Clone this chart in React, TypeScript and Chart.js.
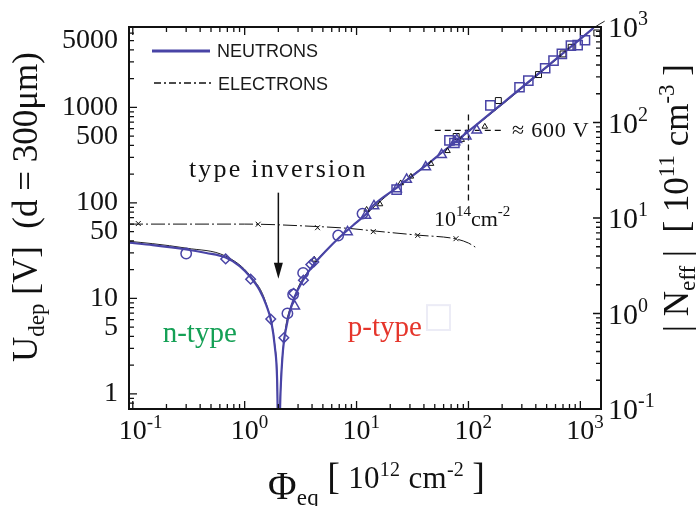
import React, { useEffect, useRef } from 'react';
import { Chart, registerables } from 'chart.js';

Chart.register(...registerables);

const SERIF = '"Liberation Serif", "Times New Roman", serif';
const SANS = '"Liberation Sans", Arial, sans-serif';
const BLUE = '#4944a6';
const INK = '#111111';

// ---------- axis ranges ----------
const PHI_MIN = 0.0925;
const PHI_MAX = 1530;
const U_MIN = 0.695;
const U_MAX = 6950;
const N_MIN = 0.1;
const N_MAX = 1000;

// ---------- tick labels ----------
const phiTickValues = [0.1, 1, 10, 100, 1000];
const phiTickExps = ['-1', '0', '1', '2', '3'];
const uTickValues = [1, 5, 10, 50, 100, 500, 1000, 5000];
const uTickLabels = ['1', '5', '10', '50', '100', '500', '1000', '5000'];
const nTickValues = [0.1, 1, 10, 100, 1000];
const nTickExps = ['-1', '0', '1', '2', '3'];

// ---------- neutron fit (blue curve) ----------
const fitPhi = [0.0925, 0.151, 0.301, 0.454, 0.676, 0.902, 1.13, 1.36, 1.56, 1.73, 1.86, 1.95, 2.01, 2.09, 2.2, 2.36, 2.53, 2.8, 3.33, 4.09, 5.39, 7.09, 9.32, 12.3, 14.1, 22.8, 42.3, 57.5, 99.7, 220, 693, 1315];
const fitU = [38.3, 36.1, 32.5, 29.9, 26.8, 21.8, 16.6, 12.2, 8.51, 5.69, 3.12, 1.4, 0.2, 1.02, 2.88, 5.05, 7.25, 10.4, 15.5, 22.3, 32.0, 44.0, 58.3, 77.3, 94, 144, 250, 335, 560, 1200, 3650, 6790];

// ---------- thin black fit curve ----------
const fitBlackPhi = [0.0925, 0.151, 0.301, 0.676, 1.13, 1.56, 1.86, 1.95, 2.01, 2.09, 2.2, 2.8, 4.09, 7.09, 12.3, 22.8, 42.3, 99.7, 220, 693, 1315, 1650];
const fitBlackU = [39.6, 37.4, 33.6, 27.7, 17.1, 8.7, 3.2, 1.45, 0.2, 1.05, 2.9, 10.4, 22.3, 44.0, 77.3, 146, 252, 555, 1170, 3600, 6790, 8000];

// ---------- electron curve (dash-dot) ----------
const elLinePhi = [0.0925, 1, 4.5, 8.7, 14, 35, 77, 100, 115];
const elLineU = [60, 60, 56.5, 54, 51, 46, 42, 38, 34.5];

// ---------- electron points (crosses) ----------
const elPhi = [0.112, 1.32, 4.48, 14.1, 35.2, 77.4];
const elU = [60.8, 59.8, 55, 50, 45.7, 42.2];

// ---------- neutron data (blue open markers) ----------
const circPhi = [0.3, 2.41, 2.71, 3.33, 6.85, 11.3];
const circU = [29.5, 6.97, 11.0, 18.5, 45.5, 77.3];
const diaPhi = [0.676, 1.13, 1.71, 2.24, 2.74, 3.35, 3.9, 4.15];
const diaU = [25.9, 15.9, 6.08, 3.87, 11.3, 15.5, 22.6, 24.1];
const triPhi = [2.8, 8.3, 12.1, 14.3, 22.8, 28, 41.5, 57.5, 75.8, 78.7, 95.5, 118.6];
const triU = [8.3, 49.7, 74, 93, 140, 176, 237, 320, 433, 458, 500, 578];
const sqPhi = [22.8, 67.6, 74.9, 157, 286, 343, 485, 576, 684, 824, 946, 1100];
const sqU = [138, 451, 424, 1048, 1626, 1910, 2570, 3090, 3630, 4440, 4480, 5050];

// ---------- neutron data (small black markers) ----------
const bTriPhi = [4.2, 12.3, 16.2, 24.8, 30.6, 46.3, 65, 87, 140];
const bTriU = [25.5, 85, 97, 161, 189, 257, 350, 458, 630];
const bSqPhi = [77.7, 185, 423, 700, 828, 1405];
const bSqU = [496, 1180, 2207, 3630, 4260, 6020];

// ---------- annotation anchors (data coordinates) ----------
const INV_PHI = 2.0;
const INV_ARROW_TOP_U = 128;
const INV_ARROW_TIP_U = 16.1;
const INV_TEXT_U = 187;
const CROSS_PHI = 100;
const CROSS_U = 575;
const CROSS_H = [50, 200];
const CROSS_V = [106, 930];

const pts = (xs: number[], ys: number[]) => xs.map((x, i) => ({ x, y: ys[i] }));

type Run = { t: string; size: number; dy?: number; font?: string };

function drawRuns(ctx: CanvasRenderingContext2D, runs: Run[], x: number, y: number) {
  let cx = x;
  ctx.textAlign = 'left';
  ctx.textBaseline = 'alphabetic';
  for (const r of runs) {
    ctx.font = `${r.size}px ${r.font || SERIF}`;
    ctx.fillText(r.t, cx, y + (r.dy || 0));
    cx += ctx.measureText(r.t).width;
  }
}

const decoPlugin = {
  id: 'deco',
  beforeDatasetsDraw(chart: any) {
    const { ctx, scales } = chart;
    const X = scales.x;
    const Y = scales.y;
    ctx.save();
    // dashed cross-hair at 10^14 cm^-2 / ~600 V
    ctx.strokeStyle = INK;
    ctx.lineWidth = 1.3;
    ctx.setLineDash([6, 4]);
    ctx.beginPath();
    ctx.moveTo(X.getPixelForValue(CROSS_H[0]), Y.getPixelForValue(CROSS_U));
    ctx.lineTo(X.getPixelForValue(CROSS_H[1]), Y.getPixelForValue(CROSS_U));
    ctx.moveTo(X.getPixelForValue(CROSS_PHI), Y.getPixelForValue(CROSS_V[0]));
    ctx.lineTo(X.getPixelForValue(CROSS_PHI), Y.getPixelForValue(CROSS_V[1]));
    ctx.stroke();
    ctx.setLineDash([]);
    // type inversion arrow
    const ax = X.getPixelForValue(INV_PHI);
    const aTop = Y.getPixelForValue(INV_ARROW_TOP_U);
    const aTip = Y.getPixelForValue(INV_ARROW_TIP_U);
    ctx.lineWidth = 1.5;
    ctx.beginPath();
    ctx.moveTo(ax, aTop);
    ctx.lineTo(ax, aTip - 12);
    ctx.stroke();
    ctx.fillStyle = INK;
    ctx.beginPath();
    ctx.moveTo(ax - 4.5, aTip - 16);
    ctx.lineTo(ax + 4.5, aTip - 16);
    ctx.lineTo(ax, aTip);
    ctx.closePath();
    ctx.fill();
    // faint artifact square
    ctx.strokeStyle = '#ececf6';
    ctx.lineWidth = 2;
    ctx.strokeRect(
      X.getPixelForValue(42.6),
      Y.getPixelForValue(8.5),
      X.getPixelForValue(68.4) - X.getPixelForValue(42.6),
      Y.getPixelForValue(4.67) - Y.getPixelForValue(8.5)
    );
    ctx.restore();
  },
  afterDraw(chart: any) {
    const { ctx, chartArea: a, scales } = chart;
    const X = scales.x;
    const Y = scales.y;
    const Y2 = scales.y2;
    ctx.save();
    ctx.fillStyle = INK;
    ctx.strokeStyle = INK;

    // ticks
    ctx.lineWidth = 1.3;
    ctx.beginPath();
    for (const d of [0.01, 0.1, 1, 10, 100, 1000]) {
      for (let m = 1; m <= 9; m++) {
        const v = d * m;
        const major = m === 1;
        if (v >= PHI_MIN && v <= PHI_MAX) {
          const px = X.getPixelForValue(v);
          const L = major ? 8 : 5;
          ctx.moveTo(px, a.bottom);
          ctx.lineTo(px, a.bottom - L);
          ctx.moveTo(px, a.top);
          ctx.lineTo(px, a.top + L);
        }
        if (v >= U_MIN && v <= U_MAX) {
          const py = Y.getPixelForValue(v);
          const L = major ? 8 : 5;
          ctx.moveTo(a.left, py);
          ctx.lineTo(a.left + L, py);
        }
        if (v >= N_MIN && v <= N_MAX) {
          const py = Y2.getPixelForValue(v);
          const L = major ? 8 : 5;
          ctx.moveTo(a.right, py);
          ctx.lineTo(a.right - L, py);
        }
      }
    }
    ctx.stroke();

    // frame
    ctx.lineWidth = 2;
    ctx.strokeRect(a.left, a.top, a.right - a.left, a.bottom - a.top);

    // left tick labels
    ctx.font = `28px ${SERIF}`;
    ctx.textAlign = 'right';
    ctx.textBaseline = 'middle';
    uTickValues.forEach((v, i) => {
      ctx.fillText(uTickLabels[i], a.left - 11, Y.getPixelForValue(v));
    });

    // bottom tick labels
    phiTickValues.forEach((v, i) => {
      const px = X.getPixelForValue(v);
      ctx.font = `28px ${SERIF}`;
      const w = ctx.measureText('10').width;
      drawRuns(ctx, [{ t: '10', size: 28 }, { t: phiTickExps[i], size: 19, dy: -11 }], px - w / 2, a.bottom + 30);
    });

    // right tick labels
    nTickValues.forEach((v, i) => {
      const py = Y2.getPixelForValue(v);
      drawRuns(ctx, [{ t: '10', size: 30 }, { t: nTickExps[i], size: 20, dy: -12 }], a.right + 7, py + 10);
    });

    // x axis title
    (ctx as any).letterSpacing = '0.3px';
    drawRuns(
      ctx,
      [
        { t: 'Φ', size: 39 },
        { t: 'eq', size: 23, dy: 6 },
        { t: ' ', size: 31, dy: -11 },
        { t: '[', size: 38, dy: -10 },
        { t: ' 10', size: 31, dy: -11 },
        { t: '12', size: 20, dy: -23 },
        { t: ' cm', size: 31, dy: -11 },
        { t: '-2', size: 20, dy: -23 },
        { t: ' ', size: 31, dy: -11 },
        { t: ']', size: 38, dy: -10 },
      ],
      268,
      499
    );
    (ctx as any).letterSpacing = '0px';

    // left axis title
    ctx.save();
    ctx.translate(37, 362);
    ctx.rotate(-Math.PI / 2);
    drawRuns(
      ctx,
      [
        { t: 'U', size: 35 },
        { t: 'dep', size: 23, dy: 7 },
        { t: ' [V]  (d = 300μm)', size: 35 },
      ],
      0,
      0
    );
    ctx.restore();

    // right axis title
    ctx.save();
    ctx.translate(688, 332);
    ctx.rotate(-Math.PI / 2);
    drawRuns(
      ctx,
      [
        { t: '| N', size: 35 },
        { t: 'eff', size: 23, dy: 7 },
        { t: ' |  [ 10', size: 35 },
        { t: '11', size: 23, dy: -14 },
        { t: ' cm', size: 35 },
        { t: '-3', size: 23, dy: -14 },
        { t: ' ]', size: 35 },
      ],
      0,
      0
    );
    ctx.restore();

    // annotations
    const invX = X.getPixelForValue(INV_PHI);
    ctx.font = `26px ${SERIF}`;
    (ctx as any).letterSpacing = '2.2px';
    ctx.textAlign = 'center';
    ctx.textBaseline = 'alphabetic';
    ctx.fillText('type inversion', invX, Y.getPixelForValue(INV_TEXT_U));
    (ctx as any).letterSpacing = '0px';

    ctx.fillStyle = '#14a055';
    ctx.font = `29px ${SERIF}`;
    ctx.textAlign = 'left';
    ctx.fillText('n-type', X.getPixelForValue(0.185), Y.getPixelForValue(3.5));
    ctx.fillStyle = '#e5352b';
    ctx.fillText('p-type', X.getPixelForValue(8.36), Y.getPixelForValue(4.04));

    ctx.fillStyle = INK;
    (ctx as any).letterSpacing = '0.8px';
    ctx.font = `22px ${SERIF}`;
    ctx.fillText('≈ 600 V', X.getPixelForValue(245), Y.getPixelForValue(485));
    (ctx as any).letterSpacing = '0px';
    drawRuns(
      ctx,
      [
        { t: '10', size: 22 },
        { t: '14', size: 15, dy: -10 },
        { t: 'cm', size: 22 },
        { t: '-2', size: 15, dy: -10 },
      ],
      X.getPixelForValue(49.2),
      Y.getPixelForValue(56.9)
    );

    // legend
    ctx.strokeStyle = BLUE;
    ctx.lineWidth = 3;
    ctx.beginPath();
    ctx.moveTo(a.left + 23, a.top + 24);
    ctx.lineTo(a.left + 81, a.top + 24);
    ctx.stroke();
    ctx.strokeStyle = INK;
    ctx.lineWidth = 1.3;
    ctx.setLineDash([7, 3, 2, 3]);
    ctx.beginPath();
    ctx.moveTo(a.left + 25, a.top + 56);
    ctx.lineTo(a.left + 83, a.top + 56);
    ctx.stroke();
    ctx.setLineDash([]);
    ctx.fillStyle = '#1a1a1a';
    ctx.font = `18px ${SANS}`;
    ctx.textAlign = 'left';
    ctx.fillText('NEUTRONS', a.left + 88, a.top + 30);
    ctx.fillText('ELECTRONS', a.left + 89, a.top + 63);

    ctx.restore();
  },
};

export default function App() {
  const canvasRef = useRef<HTMLCanvasElement | null>(null);

  useEffect(() => {
    if (!canvasRef.current) return;
    const open = 'rgba(0,0,0,0)';
    const chart = new Chart(canvasRef.current, {
      type: 'scatter',
      data: {
        datasets: [
          { label: 'n circles', data: pts(circPhi, circU), pointStyle: 'circle', pointRadius: 5.2, borderColor: BLUE, backgroundColor: open, borderWidth: 1.5 },
          { label: 'n diamonds', data: pts(diaPhi, diaU), pointStyle: 'rectRot', pointRadius: 4.8, borderColor: BLUE, backgroundColor: open, borderWidth: 1.5 },
          { label: 'n triangles', data: pts(triPhi, triU), pointStyle: 'triangle', pointRadius: 5.5, borderColor: BLUE, backgroundColor: open, borderWidth: 1.5 },
          { label: 'n squares', data: pts(sqPhi, sqU), pointStyle: 'rect', pointRadius: 6.5, borderColor: BLUE, backgroundColor: open, borderWidth: 1.5 },
          { label: 'black triangles', data: pts(bTriPhi, bTriU), pointStyle: 'triangle', pointRadius: 3.2, borderColor: INK, backgroundColor: open, borderWidth: 1 },
          { label: 'black squares', data: pts(bSqPhi, bSqU), pointStyle: 'rect', pointRadius: 4.2, borderColor: INK, backgroundColor: open, borderWidth: 1 },
          { label: 'electron points', data: pts(elPhi, elU), pointStyle: 'crossRot', pointRadius: 3.5, borderColor: INK, backgroundColor: INK, borderWidth: 1 },
          { label: 'NEUTRONS', data: pts(fitPhi, fitU), showLine: true, pointRadius: 0, borderColor: BLUE, borderWidth: 2.2, cubicInterpolationMode: 'monotone' },
          { label: 'black fit', data: pts(fitBlackPhi, fitBlackU), showLine: true, pointRadius: 0, borderColor: '#222', borderWidth: 1, cubicInterpolationMode: 'monotone', clip: { left: 0, top: 12, right: 5, bottom: 0 } },
          { label: 'ELECTRONS', data: pts(elLinePhi, elLineU), showLine: true, pointRadius: 0, borderColor: INK, borderWidth: 1, borderDash: [14, 3, 2, 3], cubicInterpolationMode: 'monotone' },
        ] as any,
      },
      options: {
        responsive: false,
        animation: false,
        events: [],
        layout: { padding: { top: 27, left: 0, right: 0, bottom: 0 } },
        plugins: { legend: { display: false }, tooltip: { enabled: false }, title: { display: false } },
        scales: {
          x: {
            type: 'logarithmic', position: 'bottom', min: PHI_MIN, max: PHI_MAX,
            ticks: { display: false }, grid: { display: false }, border: { display: false },
            afterFit: (s: any) => { s.height = 97; },
          },
          y: {
            type: 'logarithmic', position: 'left', min: U_MIN, max: U_MAX,
            ticks: { display: false }, grid: { display: false }, border: { display: false },
            afterFit: (s: any) => { s.width = 129; },
          },
          y2: {
            type: 'logarithmic', position: 'right', min: N_MIN, max: N_MAX,
            ticks: { display: false }, grid: { display: false }, border: { display: false },
            afterFit: (s: any) => { s.width = 97; },
          },
        } as any,
      },
      plugins: [decoPlugin],
    });
    return () => chart.destroy();
  }, []);

  return (
    <div style={{ position: 'fixed', left: 0, top: 0, width: 698, height: 506, background: '#fff' }}>
      <canvas ref={canvasRef} width={698} height={506} style={{ width: 698, height: 506, display: 'block' }} />
    </div>
  );
}
